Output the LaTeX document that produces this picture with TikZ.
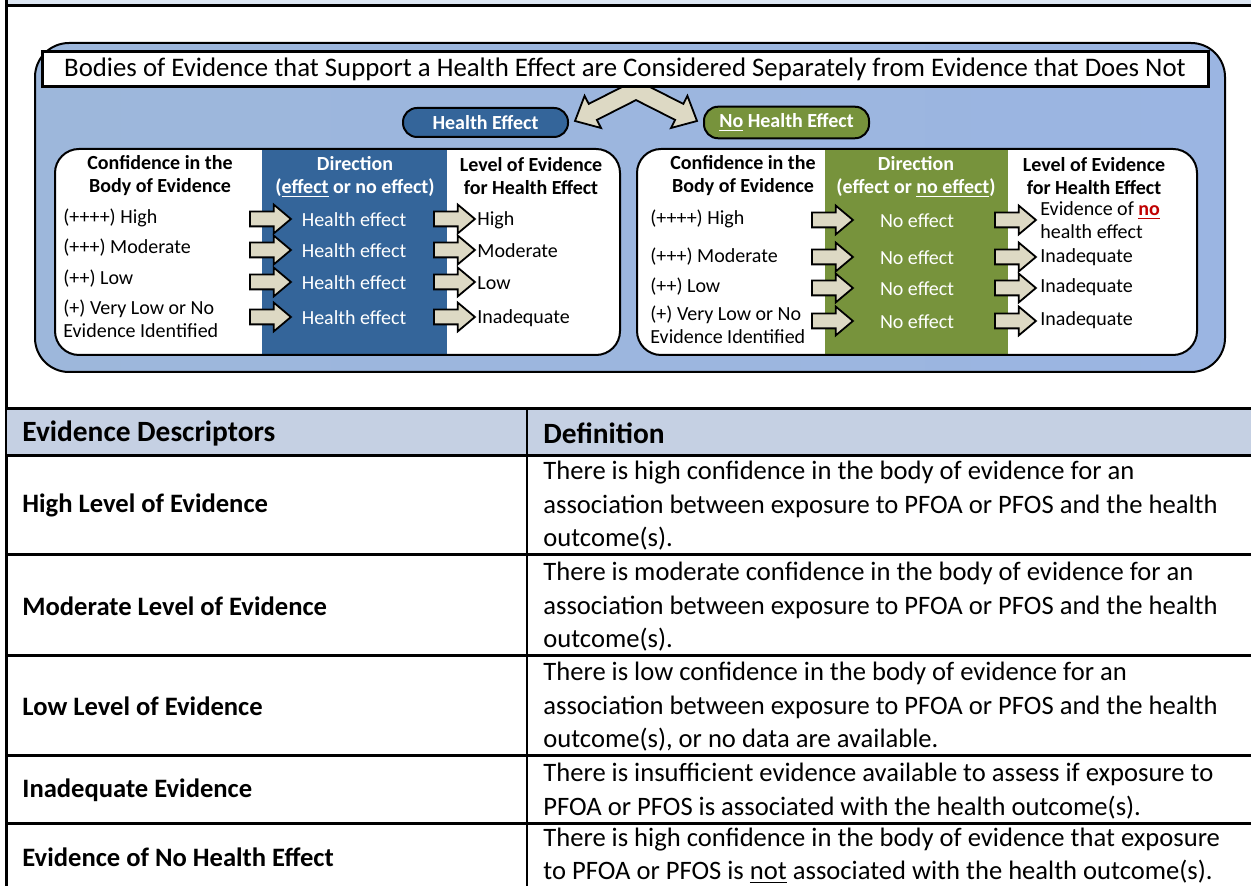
\documentclass[tikz,border=0pt]{standalone}
\usepackage{fontspec}
\setmainfont{Carlito}
\usetikzlibrary{shapes.arrows}
\definecolor{hblue}{HTML}{34659A}
\definecolor{ngreen}{HTML}{77933C}
\definecolor{arrtan}{HTML}{DDD9C4}
\definecolor{panelL}{HTML}{9DB7DB}
\definecolor{panelM}{HTML}{BBCDE6}
\definecolor{panelR}{HTML}{9BB5E2}
\definecolor{headgray}{HTML}{C5D0E3}
\definecolor{topband}{HTML}{DCE6F2}
\definecolor{nored}{HTML}{C00000}
\begin{document}
\begin{tikzpicture}[x=0.5pt,y=-0.5pt,
  blockarr/.style={single arrow, draw=black, fill=arrtan, line width=0.9pt,
    minimum height=20.5pt, single arrow head extend=3.5pt,
    single arrow tip angle=80, inner xsep=0pt, inner ysep=3.25pt},
  pill/.style={draw=black, line width=1pt, rounded corners=7pt, minimum width=82.5pt,
    minimum height=14.5pt, text=white, font=\fontsize{10}{12}\selectfont\bfseries},
  hdr/.style={align=center, font=\fontsize{10}{11.5}\selectfont\bfseries, inner sep=0pt},
  rowtxt/.style={anchor=west, align=left, font=\fontsize{10}{11.3}\selectfont, inner sep=0pt},
  midtxt/.style={text=white, font=\fontsize{10}{12}\selectfont, inner sep=0pt},
  tlabel/.style={anchor=west, font=\fontsize{13.3}{16}\selectfont\bfseries, inner sep=0pt},
  tdef/.style={anchor=west, align=left, font=\fontsize{13.3}{16.75}\selectfont, inner sep=0pt},
  rule/.style={line width=1.5pt}]
\useasboundingbox (0,0) rectangle (1251,886);
% frame
\fill[topband] (7,0) rectangle (1251,5);
\draw[rule] (7,6) -- (1251,6);
\draw[line width=1.3pt] (6.5,0) -- (6.5,886);
% blue panel
\draw[line width=1pt, rounded corners=17pt, left color=panelL, middle color=panelM, right color=panelR]
  (35,43) rectangle (1225,372);
% split arrow
\draw[line width=0.9pt, fill=arrtan, line join=miter]
  (631.9,82.0) -- (588.7,103.9) -- (584.6,95.8) -- (575,121) -- (601.0,128.0) -- (596.9,119.9)
  -- (636,100.1) -- (675.1,119.9) -- (671.0,128.0) -- (697,121) -- (687.4,95.8) -- (683.3,103.9)
  -- (640.1,82.0) -- cycle;
\node[draw=black, line width=1.5pt, fill=white, minimum width=583pt, minimum height=17.5pt,
  inner sep=0pt, font=\fontsize{13.4}{16}\selectfont] (title) at (625,69.5)
  {Bodies of Evidence that Support a Health Effect are Considered Separately from Evidence that Does Not};
\node[pill, fill=hblue] (he) at (485.5,122.5) {Health Effect};
\node[pill, fill=ngreen] (nhe) at (786.5,122.5) {\underline{No} Health Effect};

% left panel: health effect
\fill[white, rounded corners=12pt] (55,149) rectangle (620,355);
\fill[hblue] (262,150) rectangle (447,354);
\draw[line width=1pt, rounded corners=12pt] (55,149) rectangle (620,355);
\node[hdr] (hc) at (160,176) {Confidence in the\\Body of Evidence};
\node[hdr, text=white] (hd) at (355,177) {Direction\\(\underline{effect} or no effect)};
\node[hdr] (hl) at (531,176) {Level of Evidence\\for Health Effect};
\node[rowtxt] (hr1) at (63,218) {(++++) High};
\node[rowtxt] (hr2) at (63,248) {(+++) Moderate};
\node[rowtxt] (hr3) at (63,279) {(++) Low};
\node[rowtxt] (hr4) at (63,319) {(+) Very Low or No\\Evidence Identified};
\foreach \y/\lev [count=\i] in {219/High,250/Moderate,282/Low,317/Inadequate} {
  \node[blockarr] (ha\i) at (266,\y) {};
  \node[midtxt] (hm\i) at (354,\y+1) {Health effect};
  \node[blockarr] (hb\i) at (450,\y) {};
  \node[rowtxt] (hv\i) at (477,\y+1) {\lev};
}

% right panel: no health effect
\fill[white, rounded corners=12pt] (637,149) rectangle (1197,355);
\fill[ngreen] (825,150) rectangle (1008,354);
\draw[line width=1pt, rounded corners=12pt] (637,149) rectangle (1197,355);
\node[hdr] (nc) at (743,176) {Confidence in the\\Body of Evidence};
\node[hdr, text=white] (nd) at (916,177) {Direction\\(effect or \underline{no effect})};
\node[hdr] (nl) at (1094,176) {Level of Evidence\\for Health Effect};
\node[rowtxt] (nr1) at (650,219) {(++++) High};
\node[rowtxt] (nr2) at (650,257) {(+++) Moderate};
\node[rowtxt] (nr3) at (650,287) {(++) Low};
\node[rowtxt] (nr4) at (650,325) {(+) Very Low or No\\Evidence Identified};
\foreach \y [count=\i] in {220,257,288,321} {
  \node[blockarr] (na\i) at (828,\y) {};
  \node[midtxt] (nm\i) at (917,\y+1) {No effect};
  \node[blockarr] (nb\i) at (1011,\y) {};
}
\node[rowtxt] (nv1) at (1040,220) {Evidence of \textcolor{nored}{\textbf{\underline{no}}}\\health effect};
\node[rowtxt] (nv2) at (1040,257) {Inadequate};
\node[rowtxt] (nv3) at (1040,287) {Inadequate};
\node[rowtxt] (nv4) at (1040,320) {Inadequate};

% table
\fill[headgray] (7,409) rectangle (1251,456);
\foreach \y in {409,456,555,655,755,823} \draw[rule] (7,\y) -- (1251,\y);
\draw[line width=0.8pt] (527,409) -- (527,886);
\node[tlabel, font=\fontsize{14.7}{17}\selectfont\bfseries] (th1) at (22,433) {Evidence Descriptors};
\node[tlabel, font=\fontsize{14.7}{17}\selectfont\bfseries] (th2) at (543,433) {Definition};
\node[tlabel] (l1) at (22,505) {High Level of Evidence};
\node[tlabel] (l2) at (22,606) {Moderate Level of Evidence};
\node[tlabel] (l3) at (22,706) {Low Level of Evidence};
\node[tlabel] (l4) at (22,790) {Inadequate Evidence};
\node[tlabel] (l5) at (22,857) {Evidence of No Health Effect};
\node[tdef] (d1) at (543,506) {There is high confidence in the body of evidence for an\\association between exposure to PFOA or PFOS and the health\\outcome(s).};
\node[tdef] (d2) at (543,607) {There is moderate confidence in the body of evidence for an\\association between exposure to PFOA or PFOS and the health\\outcome(s).};
\node[tdef] (d3) at (543,707) {There is low confidence in the body of evidence for an\\association between exposure to PFOA or PFOS and the health\\outcome(s), or no data are available.};
\node[tdef] (d4) at (543,791) {There is insufficient evidence available to assess if exposure to\\PFOA or PFOS is associated with the health outcome(s).};
\node[tdef] (d5) at (543,856) {There is high confidence in the body of evidence that exposure\\to PFOA or PFOS is \underline{not} associated with the health outcome(s).};
\end{tikzpicture}
\end{document}
